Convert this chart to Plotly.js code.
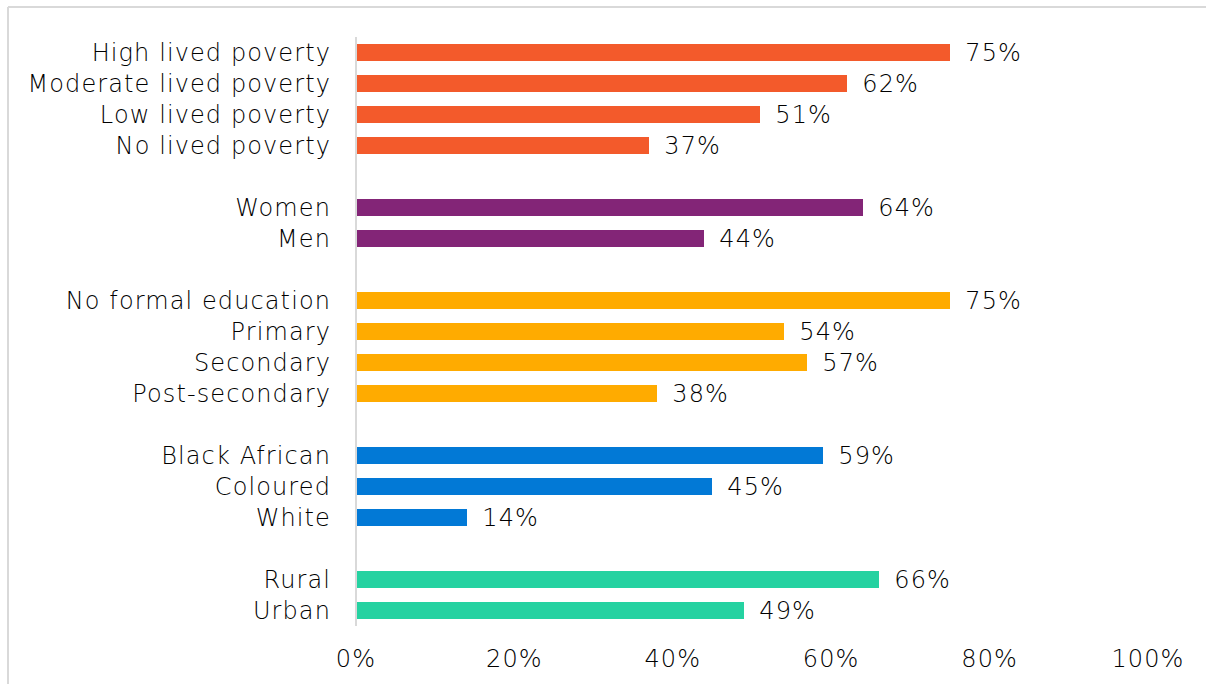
<!DOCTYPE html>
<html>
<head>
<meta charset="utf-8">
<script src="https://cdn.plot.ly/plotly-3.0.1.min.js"></script>
<style>html,body{margin:0;padding:0;background:#fff;}#chart{width:1206px;height:684px;}
#chart text{letter-spacing:1.1px;}</style>
</head>
<body>
<div id="chart"></div>
<script>
const groups = [
  {labels: ["High lived poverty", "Moderate lived poverty", "Low lived poverty", "No lived poverty"], values: [75, 62, 51, 37], color: "#F35A2B"},
  {labels: ["Women", "Men"], values: [64, 44], color: "#832577"},
  {labels: ["No formal education", "Primary", "Secondary", "Post-secondary"], values: [75, 54, 57, 38], color: "#FFAB00"},
  {labels: ["Black African", "Coloured", "White"], values: [59, 45, 14], color: "#0279D6"},
  {labels: ["Rural", "Urban"], values: [66, 49], color: "#25D2A1"}
];
const xTickVals = [0, 20, 40, 60, 80, 100];
const xTickText = ["0%", "20%", "40%", "60%", "80%", "100%"];

const FONT = "'DejaVu Sans', sans-serif";
const FS = 24;
const W = 200;
const traces = [];
const annotations = [];
const tickvals = [], ticktext = [];
let pos = 0;
groups.forEach((g, gi) => {
  const ys = [];
  g.labels.forEach((lab, i) => {
    ys.push(pos);
    tickvals.push(pos); ticktext.push(lab);
    annotations.push({x: g.values[i], y: pos, xref: 'x', yref: 'y', text: g.values[i] + '%',
      showarrow: false, xanchor: 'left', yanchor: 'middle', xshift: 15,
      font: {family: FONT, size: FS, color: '#000', weight: W}});
    pos++;
  });
  pos++;
  traces.push({type: 'bar', orientation: 'h', x: g.values, y: ys, width: 0.57,
    marker: {color: g.color}, hoverinfo: 'skip', showlegend: false});
});

const layout = {
  width: 1206, height: 684,
  margin: {l: 356, r: 58, t: 37, b: 58},
  paper_bgcolor: '#fff', plot_bgcolor: '#fff',
  font: {family: FONT, size: FS, color: '#000', weight: W},
  bargap: 0,
  xaxis: {range: [0, 100], tickvals: xTickVals, ticktext: xTickText, showgrid: false,
    zeroline: false, showline: false, ticks: '', ticklabelstandoff: 16,
    tickfont: {family: FONT, size: FS, color: '#000', weight: W}, fixedrange: true},
  yaxis: {range: [18.5, -0.5], tickvals: tickvals, ticktext: ticktext, showgrid: false,
    zeroline: false, showline: false, ticks: '', ticklabelstandoff: 24,
    tickfont: {family: FONT, size: FS, color: '#000', weight: W}, fixedrange: true},
  annotations: annotations,
  shapes: [
    {type: 'line', xref: 'paper', yref: 'paper', x0: 0, x1: 0, y0: 0, y1: 1,
      line: {color: '#D9D9D9', width: 2}},
    {type: 'line', xref: 'paper', yref: 'paper', x0: -0.4394, x1: 1.1, y0: 1.0509, y1: 1.0509,
      line: {color: '#D9D9D9', width: 2}},
    {type: 'line', xref: 'paper', yref: 'paper', x0: -0.4394, x1: -0.4394, y0: 1.0509, y1: -0.2,
      line: {color: '#D9D9D9', width: 2}}
  ]
};
Plotly.newPlot('chart', traces, layout, {displayModeBar: false, staticPlot: true});
</script>
</body>
</html>
